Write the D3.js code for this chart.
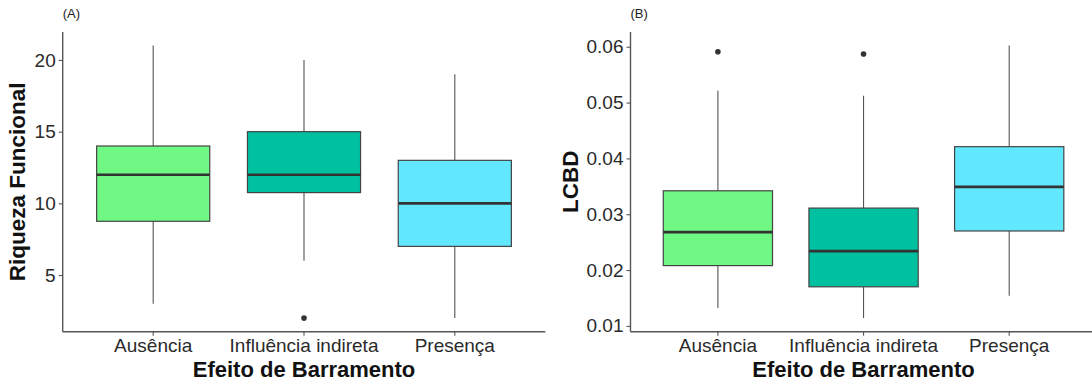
<!DOCTYPE html>
<html>
<head>
<meta charset="utf-8">
<script src="https://cdn.jsdelivr.net/npm/d3@7"></script>
<style>
  html, body { margin: 0; padding: 0; background: #fff; }
  svg { display: block; font-family: "Liberation Sans", Arial, sans-serif; }
</style>
</head>
<body>
<svg id="chart" width="1092" height="387"></svg>
<script>
// ---- data ----
const categories = ["Ausência", "Influência indireta", "Presença"];
const boxColors = ["#6FF884", "#00C19F", "#61E8FF"];

// Panel A: Riqueza Funcional
const riquezaLower   = [3, 6, 2];
const riquezaQ1      = [8.75, 10.75, 7];
const riquezaMedian  = [12, 12, 10];
const riquezaQ3      = [14, 15, 13];
const riquezaUpper   = [21, 20, 19];
const riquezaOutliers = [[], [2], []];
const riquezaTicks   = [5, 10, 15, 20];

// Panel B: LCBD
const lcbdLower   = [0.0132, 0.0114, 0.0154];
const lcbdQ1      = [0.0208, 0.0170, 0.0270];
const lcbdMedian  = [0.0268, 0.0234, 0.0349];
const lcbdQ3      = [0.0342, 0.0311, 0.0421];
const lcbdUpper   = [0.0521, 0.0512, 0.0602];
const lcbdOutliers = [[0.0591], [0.0587], []];
const lcbdTicks   = [0.01, 0.02, 0.03, 0.04, 0.05, 0.06];

const xTitle = "Efeito de Barramento";

const svg = d3.select("#chart");

function panel(opts) {
  const { left, right, top, bottom, tag, yTitle, yTitleX, lower, q1, med, q3, upper, outliers, ticks, fmt } = opts;
  const g = svg.append("g");

  const allVals = lower.concat(upper, outliers.flat());
  const lo = d3.min(allVals), hi = d3.max(allVals);
  const pad = (hi - lo) * 0.05;
  const y = d3.scaleLinear().domain([lo - pad, hi + pad]).range([bottom, top]);
  const x = d3.scaleBand().domain(categories).range([left, right])
    .paddingInner(0.25).paddingOuter(0.225);
  const cx = c => x(c) + x.bandwidth() / 2;

  const rows = categories.map((c, i) => ({
    c, i, lo: lower[i], q1: q1[i], med: med[i], q3: q3[i], hi: upper[i], out: outliers[i]
  }));

  // whiskers
  g.selectAll(".wu").data(rows).join("line")
    .attr("x1", d => cx(d.c)).attr("x2", d => cx(d.c))
    .attr("y1", d => y(d.q3)).attr("y2", d => y(d.hi))
    .attr("stroke", "#555").attr("stroke-width", 1.1);
  g.selectAll(".wl").data(rows).join("line")
    .attr("x1", d => cx(d.c)).attr("x2", d => cx(d.c))
    .attr("y1", d => y(d.q1)).attr("y2", d => y(d.lo))
    .attr("stroke", "#555").attr("stroke-width", 1.1);

  // boxes
  g.selectAll(".box").data(rows).join("rect")
    .attr("x", d => x(d.c)).attr("width", x.bandwidth())
    .attr("y", d => y(d.q3)).attr("height", d => y(d.q1) - y(d.q3))
    .attr("fill", d => boxColors[d.i])
    .attr("stroke", "#444").attr("stroke-width", 1.2);

  // medians
  g.selectAll(".med").data(rows).join("line")
    .attr("x1", d => x(d.c)).attr("x2", d => x(d.c) + x.bandwidth())
    .attr("y1", d => y(d.med)).attr("y2", d => y(d.med))
    .attr("stroke", "#333").attr("stroke-width", 2.6);

  // outliers
  const outs = rows.flatMap(d => d.out.map(v => ({ c: d.c, v })));
  g.selectAll(".out").data(outs).join("circle")
    .attr("cx", d => cx(d.c)).attr("cy", d => y(d.v)).attr("r", 2.8)
    .attr("fill", "#333");

  // axes
  const yAxis = g.append("g").attr("transform", `translate(${left},0)`)
    .call(d3.axisLeft(y).tickValues(ticks).tickFormat(fmt).tickSize(4).tickPadding(3));
  const xAxis = g.append("g").attr("transform", `translate(0,${bottom})`)
    .call(d3.axisBottom(x).tickSize(4).tickPadding(4));
  [yAxis, xAxis].forEach(a => {
    a.select(".domain").remove();
    a.selectAll(".tick line").attr("stroke", "#555").attr("stroke-width", 1.1);
    a.selectAll(".tick text").attr("fill", "#2a2a2a").style("font-size", "19px");
  });
  xAxis.selectAll(".tick text").attr("dy", null).attr("y", 20.5);
  // axis lines
  g.append("line").attr("x1", left).attr("x2", left).attr("y1", top).attr("y2", bottom)
    .attr("stroke", "#555").attr("stroke-width", 1.4);
  g.append("line").attr("x1", left).attr("x2", right).attr("y1", bottom).attr("y2", bottom)
    .attr("stroke", "#555").attr("stroke-width", 1.4);

  // titles
  g.append("text").attr("x", (left + right) / 2).attr("y", 377)
    .attr("text-anchor", "middle").style("font-size", "22px").style("font-weight", "bold")
    .attr("fill", "#111").text(xTitle);
  g.append("text").attr("transform", `translate(${yTitleX},${(top + bottom) / 2}) rotate(-90)`)
    .attr("text-anchor", "middle").style("font-size", "22.5px").style("font-weight", "bold")
    .attr("fill", "#111").text(yTitle);
  g.append("text").attr("x", left).attr("y", 18).style("font-size", "13px")
    .attr("fill", "#222").text(tag);
}

panel({
  left: 62.7, right: 545.3, top: 32, bottom: 331.7, tag: "(A)",
  yTitle: "Riqueza Funcional", yTitleX: 25,
  lower: riquezaLower, q1: riquezaQ1, med: riquezaMedian, q3: riquezaQ3, upper: riquezaUpper,
  outliers: riquezaOutliers, ticks: riquezaTicks, fmt: d3.format("d")
});
panel({
  left: 630.5, right: 1096.6, top: 32, bottom: 331.7, tag: "(B)",
  yTitle: "LCBD", yTitleX: 578,
  lower: lcbdLower, q1: lcbdQ1, med: lcbdMedian, q3: lcbdQ3, upper: lcbdUpper,
  outliers: lcbdOutliers, ticks: lcbdTicks, fmt: d3.format(".2f")
});
</script>
</body>
</html>
